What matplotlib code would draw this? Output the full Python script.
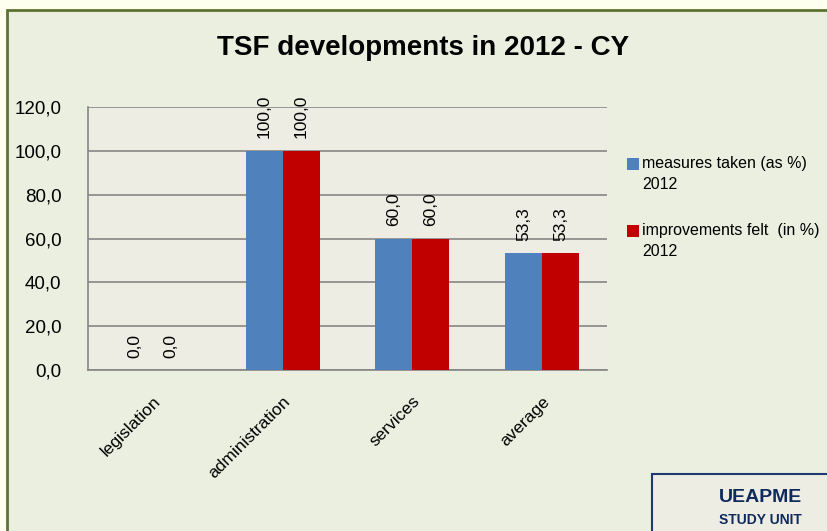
import matplotlib.pyplot as plt
from matplotlib.patches import Rectangle
import numpy as np

categories = ['legislation', 'administration', 'services', 'average']
measures = [0.0, 100.0, 60.0, 53.3]
improvements = [0.0, 100.0, 60.0, 53.3]
series_labels = ['measures taken (as %)\n2012', 'improvements felt  (in %)\n2012']
series_colors = ['#4F81BD', '#C00000']
yticks = [0, 20, 40, 60, 80, 100, 120]

plt.rcParams['font.family'] = ['Liberation Sans', 'DejaVu Sans']

W, H = 827, 531
fig = plt.figure(figsize=(W / 100, H / 100), dpi=100)
fig.patch.set_facecolor('#FFFFF0')

# chart area frame
fig.patches.append(Rectangle((7 / W, -0.05), 1.1, 1 - 10 / H + 0.05, transform=fig.transFigure,
                             facecolor='#EBEFE0', edgecolor='#5E7232', linewidth=2, zorder=0))

ax = fig.add_axes([88 / W, 1 - 370 / H, (607 - 88) / W, (370 - 107) / H])
ax.set_zorder(2)
ax.set_facecolor('#EEEDE3')

x = np.arange(len(categories))
w = 0.285
b1 = ax.bar(x - w / 2, measures, w, color=series_colors[0], zorder=3)
b2 = ax.bar(x + w / 2, improvements, w, color=series_colors[1], zorder=3)

for bars in (b1, b2):
    for bar in bars:
        h = bar.get_height()
        ax.annotate(f"{h:.1f}".replace('.', ','), (bar.get_x() + bar.get_width() / 2, h),
                    xytext=(0, 9), textcoords='offset points', rotation=90,
                    ha='center', va='bottom', fontsize=12.5)

ax.set_xlim(-0.5, len(categories) - 0.5)
ax.set_ylim(0, 120)
ax.set_yticks(yticks)
ax.set_yticklabels([f"{v:.1f}".replace('.', ',') for v in yticks], fontsize=13.5)
ax.set_xticks(x)
ax.set_xticklabels(categories, rotation=45, ha='right', rotation_mode='anchor', fontsize=12.5)
ax.tick_params(axis='y', length=0, pad=19)
ax.tick_params(axis='x', length=0, pad=17)
ax.grid(axis='y', color='#868686', linewidth=1.2, zorder=1)
for s in ('top', 'right'):
    ax.spines[s].set_visible(False)
for s in ('left', 'bottom'):
    ax.spines[s].set_color('#868686')
    ax.spines[s].set_linewidth(1.2)

fig.text(423 / W, 1 - 48 / H, 'TSF developments in 2012 - CY', ha='center', va='center',
         fontsize=20, fontweight='bold')

# legend, square beside the first line of each label
for i, (lab, col) in enumerate(zip(series_labels, series_colors)):
    ytop = 157 + i * 67
    fig.patches.append(Rectangle((627 / W, 1 - (ytop + 13) / H), 12 / W, 12 / H,
                                 transform=fig.transFigure, facecolor=col, zorder=3))
    fig.text(642 / W, 1 - (ytop - 1) / H, lab, ha='left', va='top', fontsize=11.5,
             linespacing=1.5)

# study unit box
fig.patches.append(Rectangle((652 / W, 1 - 535 / H), 0.3, 61 / H, transform=fig.transFigure,
                             facecolor='#EEEDE3', edgecolor='#1F3A6E', linewidth=1.5, zorder=1))
fig.text(760 / W, 1 - 497 / H, 'UEAPME', ha='center', va='center', fontsize=14,
         fontweight='bold', color='#0E2A5E')
fig.text(760 / W, 1 - 520 / H, 'STUDY UNIT', ha='center', va='center', fontsize=10,
         fontweight='bold', color='#0E2A5E')

fig.savefig('out.png', dpi=100, facecolor=fig.get_facecolor())
